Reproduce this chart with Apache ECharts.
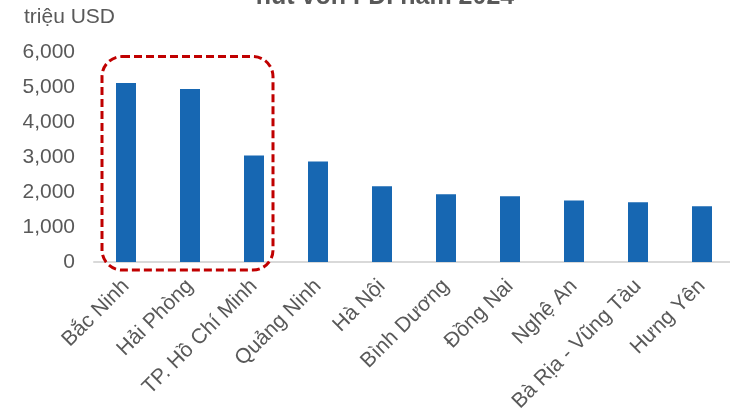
<!DOCTYPE html>
<html>
<head>
<meta charset="utf-8">
<script src="https://cdn.jsdelivr.net/npm/echarts@6/dist/echarts.min.js"></script>
<style>html,body{margin:0;padding:0;background:#fff}#c{width:730px;height:412px}</style>
</head>
<body>
<div id="c"></div>
<script>
const categories = ["Bắc Ninh","Hải Phòng","TP. Hồ Chí Minh","Quảng Ninh","Hà Nội","Bình Dương","Đồng Nai","Nghệ An","Bà Rịa - Vũng Tàu","Hưng Yên"];
const values = [5115, 4945, 3040, 2875, 2165, 1935, 1880, 1755, 1705, 1595];
const yTicks = [0, 1000, 2000, 3000, 4000, 5000, 6000];
const titleText = "hút vốn FDI năm 2024";
const unitText = "triệu USD";
const highlightFrom = 0, highlightTo = 2, highlightTop = 5870;

const FONT = '"Liberation Sans", Arial, sans-serif';
const GRAY = '#595959';
const chart = echarts.init(document.getElementById('c'), null, {renderer: 'canvas'});
chart.setOption({
  animation: false,
  grid: {left: 94, right: -4, top: 52, bottom: 150, containLabel: false, outerBoundsMode: 'none'},
  xAxis: {
    type: 'category',
    data: categories,
    axisLine: {lineStyle: {color: '#D9D9D9', width: 2}},
    axisTick: {show: false},
    axisLabel: {interval: 0, rotate: 45, margin: 21, color: GRAY, fontSize: 21, fontFamily: FONT}
  },
  yAxis: {
    type: 'value',
    min: yTicks[0], max: yTicks[yTicks.length - 1], interval: 1000,
    splitLine: {show: false},
    axisLine: {show: false}, axisTick: {show: false},
    axisLabel: {margin: 19, color: GRAY, fontSize: 21, fontFamily: FONT,
      formatter: v => v.toLocaleString('en-US')}
  },
  series: [{
    type: 'bar',
    data: values,
    barWidth: 20,
    itemStyle: {color: '#1767B2'}
  }]
});

const p0 = chart.convertToPixel({xAxisIndex: 0, yAxisIndex: 0}, [highlightFrom, highlightTop]);
const p1 = chart.convertToPixel({xAxisIndex: 0, yAxisIndex: 0}, [highlightTo, 0]);
const x0 = p0[0] - 24, x1 = p1[0] + 19, y0 = p0[1], y1 = p1[1] + 8;
chart.setOption({
  graphic: [
    {type: 'rect', shape: {x: x0, y: y0, width: x1 - x0, height: y1 - y0, r: 20},
     style: {fill: 'none', stroke: '#C00000', lineWidth: 3, lineDash: [8, 4]}, z: 10},
    {type: 'text', x: 24, y: 17, style: {text: unitText, font: '21px ' + FONT, fill: GRAY, textVerticalAlign: 'middle'}},
    {type: 'text', x: 385, y: 10, style: {text: titleText, font: 'bold 25px ' + FONT, fill: GRAY, textAlign: 'center', textVerticalAlign: 'bottom'}}
  ]
});
</script>
</body>
</html>
